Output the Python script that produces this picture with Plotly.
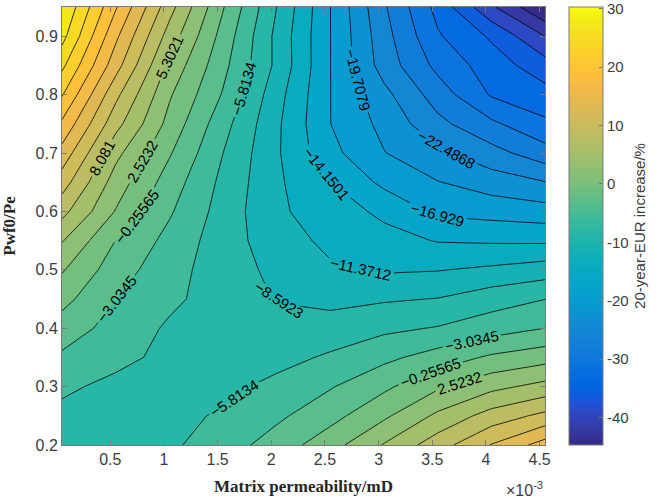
import plotly.graph_objects as go

# ---------------- data ----------------
x_perm = [0.05e-3, 0.55e-3, 1.05e-3, 1.55e-3, 2.05e-3, 2.55e-3, 3.05e-3, 3.55e-3, 4.05e-3, 4.55e-3]
y_ratio = [0.20, 0.25, 0.30, 0.35, 0.40, 0.45, 0.50, 0.55, 0.60, 0.65, 0.70, 0.75, 0.80, 0.85, 0.90, 0.95]

eur_020 = [-7.2, -7.0, -6.3, -4.37, -1.79, 1.42, 5.5, 9.62, 13.78, 17.6]
eur_025 = [-6.5, -6.7, -6.6, -5.47, -3.58, -1.22, 2.0, 5.87, 9.23, 11.6]
eur_030 = [-5.32, -6.5, -7.0, -6.6, -5.0, -3.25, -0.83, 2.09, 4.52, 6.2]
eur_035 = [-3.5, -5.07, -6.5, -7.0, -6.8, -5.4, -3.72, -1.84, 0.2, 1.4]
eur_040 = [-1.54, -4.08, -6.2, -7.3, -7.6, -7.5, -6.4, -5.64, -4.32, -3.03]
eur_045 = [0.62, -3.0, -5.24, -7.05, -8.75, -9.3, -8.9, -8.5, -7.03, -5.85]
eur_050 = [2.8, -1.73, -4.72, -7.27, -9.27, -11.0, -11.7, -11.5, -10.87, -10.0]
eur_055 = [5.5, -0.3, -3.88, -7.28, -10.1, -12.03, -13.19, -14.3, -14.5, -14.6]
eur_060 = [8.97, 2.37, -2.69, -6.95, -10.9, -12.78, -14.76, -17.5, -18.0, -18.55]
eur_065 = [12.2, 4.02, -1.56, -6.5, -10.9, -14.1, -17.6, -19.6, -21.1, -22.4]
eur_070 = [15.4, 6.1, 0.04, -5.8, -11.0, -16.12, -19.6, -21.9, -24.25, -26.9]
eur_075 = [18.7, 9.08, 1.63, -4.78, -10.85, -16.9, -20.5, -24.5, -27.5, -30.3]
eur_080 = [22.2, 11.6, 2.87, -3.26, -10.3, -16.9, -21.7, -26.6, -31.1, -32.6]
eur_085 = [25.4, 14.8, 4.6, -2.26, -9.2, -16.9, -23.7, -28.8, -32.2, -35.2]
eur_090 = [28.5, 17.0, 6.9, -1.3, -9.3, -16.9, -24.2, -30.5, -34.0, -39.2]
eur_095 = [30.31, 19.5, 9.17, -0.06, -8.6, -16.9, -24.9, -31.7, -38.7, -44.72]

eur_rows = [eur_020, eur_025, eur_030, eur_035, eur_040, eur_045, eur_050, eur_055,
            eur_060, eur_065, eur_070, eur_075, eur_080, eur_085, eur_090, eur_095]

# contour levels (labelled ones run from -30.8235 to 16.4177)
level_ref = -30.823465
level_step = 2.778892
z_min = level_ref - 5 * level_step
z_max = level_ref + 22 * level_step

x_tick_vals = [0.5e-3, 1.0e-3, 1.5e-3, 2.0e-3, 2.5e-3, 3.0e-3, 3.5e-3, 4.0e-3, 4.5e-3]
x_tick_text = ["0.5", "1", "1.5", "2", "2.5", "3", "3.5", "4", "4.5"]
y_tick_vals = [0.2, 0.3, 0.4, 0.5, 0.6, 0.7, 0.8, 0.9]
y_tick_text = ["0.2", "0.3", "0.4", "0.5", "0.6", "0.7", "0.8", "0.9"]
cbar_tick_vals = [-40, -30, -20, -10, 0, 10, 20, 30]
cbar_tick_text = ["-40", "-30", "-20", "-10", "0", "10", "20", "30"]

parula = ["#352a87", "#363093", "#3637a0", "#353dad", "#3243ba", "#2c4ac7", "#2053d4", "#0f5cdd",
          "#0363e1", "#0268e1", "#046de0", "#0871de", "#0d75dc", "#1079da", "#127dd8", "#1481d6",
          "#1485d4", "#1389d3", "#108ed2", "#0c93d2", "#0998d1", "#079ccf", "#06a0cd", "#06a4ca",
          "#06a7c6", "#07a9c2", "#0aacbe", "#0faeb9", "#15b1b4", "#1db3af", "#25b5a9", "#2eb7a4",
          "#38b99e", "#42bb98", "#4dbc92", "#59bd8c", "#65be86", "#71bf80", "#7cbf7b", "#87bf77",
          "#92bf73", "#9cbf6f", "#a5be6b", "#aebe67", "#b7bd64", "#c0bc60", "#c8bc5d", "#d1bb59",
          "#d9ba56", "#e1b952", "#e9b94e", "#f1b94a", "#f8bb44", "#fdbe3d", "#ffc337", "#fec832",
          "#fcce2e", "#fad32a", "#f7d826", "#f5de21", "#f5e41d", "#f5eb18", "#f6f313", "#f9fb0e"]

# ---------------- styling ----------------
n_c = len(parula) - 1
parula_scale = [[i / n_c, c] for i, c in enumerate(parula)]
# band colours as MATLAB contourf (each band takes the colour of its lower level)
shift = 27.0 / 26.0
fill_scale = [[i / n_c * shift, c] for i, c in enumerate(parula) if i / n_c * shift <= 1.0]
fill_scale.append([1.0, "#f5e81a"])

sans = "Liberation Sans, Arial, sans-serif"
serif = "Liberation Serif, Times New Roman, serif"
axis_grey = "#7a7a7a"
text_grey = "#3c3c3c"

fig = go.Figure()

fig.add_trace(go.Contour(
    x=x_perm, y=y_ratio, z=eur_rows,
    colorscale=fill_scale, showscale=False,
    contours=dict(start=level_ref - 4 * level_step, end=level_ref + 21 * level_step + 1e-6,
                  size=level_step, coloring="fill", showlines=False),
    line=dict(width=0, smoothing=0),
    hoverinfo="skip",
))


def line_trace(k0, k1, labels, fmt):
    return go.Contour(
        x=x_perm, y=y_ratio, z=eur_rows,
        showscale=False,
        contours=dict(start=level_ref + k0 * level_step, end=level_ref + k1 * level_step + 1e-6,
                      size=level_step, coloring="none", showlabels=labels,
                      labelformat=fmt, labelfont=dict(family=sans, size=15, color="#000000")),
        line=dict(color="#000000", width=0.8, smoothing=0),
        hoverinfo="skip",
    )


fig.add_trace(line_trace(-4, -1, False, ".4~f"))
fig.add_trace(line_trace(0, 10, True, ".4~f"))
fig.add_trace(line_trace(11, 11, True, ".5~f"))
fig.add_trace(line_trace(12, 17, True, ".4~f"))
fig.add_trace(line_trace(18, 21, False, ".4~f"))

# continuous colour bar
fig.add_trace(go.Scatter(
    x=[x_perm[0]], y=[y_ratio[0]], mode="markers",
    marker=dict(size=1, opacity=0, color=[z_min], cmin=z_min, cmax=z_max,
                colorscale=parula_scale, showscale=True,
                colorbar=dict(
                    x=1.049, xanchor="left", y=0.5, yanchor="middle",
                    len=1.0, lenmode="fraction", thickness=34, thicknessmode="pixels",
                    xpad=0, ypad=0, outlinewidth=1, outlinecolor=axis_grey,
                    ticks="inside", ticklen=4, tickcolor=axis_grey,
                    ticklabeloverflow="allow",
                    tickvals=cbar_tick_vals, ticktext=cbar_tick_text,
                    tickfont=dict(family=sans, size=15, color=text_grey),
                    title=dict(text="20-year-EUR increase/%", side="right",
                               font=dict(family=sans, size=15, color=text_grey)),
                )),
    hoverinfo="skip", showlegend=False,
))

fig.update_layout(
    width=661, height=501, autosize=False,
    margin=dict(l=54, r=116, t=6, b=56),
    paper_bgcolor="white", plot_bgcolor="white",
    showlegend=False,
    xaxis=dict(range=[x_perm[0], x_perm[-1]], showgrid=False, zeroline=False,
               showline=True, linecolor=axis_grey, linewidth=1, mirror="ticks",
               ticks="inside", ticklen=5, tickcolor=axis_grey,
               tickvals=x_tick_vals, ticktext=x_tick_text,
               tickfont=dict(family=sans, size=16, color=text_grey),
               title=dict(text="Matrix permeability/mD", standoff=12,
                          font=dict(family=serif, size=17, color="#262626", weight="bold"))),
    yaxis=dict(range=[y_ratio[0], y_ratio[-1]], showgrid=False, zeroline=False,
               showline=True, linecolor=axis_grey, linewidth=1, mirror="ticks",
               ticks="inside", ticklen=5, tickcolor=axis_grey,
               tickvals=y_tick_vals, ticktext=y_tick_text,
               tickfont=dict(family=sans, size=16, color=text_grey),
               title=dict(text="Pwf0/Pe", standoff=18,
                          font=dict(family=serif, size=17, color="#262626", weight="bold"))),
    annotations=[dict(text="\u00d710<sup>-3</sup>", xref="paper", yref="paper",
                      x=1.0, y=-0.1, xanchor="right", yanchor="middle", showarrow=False,
                      font=dict(family=sans, size=16, color=text_grey))],
)

fig.write_html("out.html", config={"displayModeBar": False},
               post_script="document.body.style.margin='0';document.body.style.padding='0';")
